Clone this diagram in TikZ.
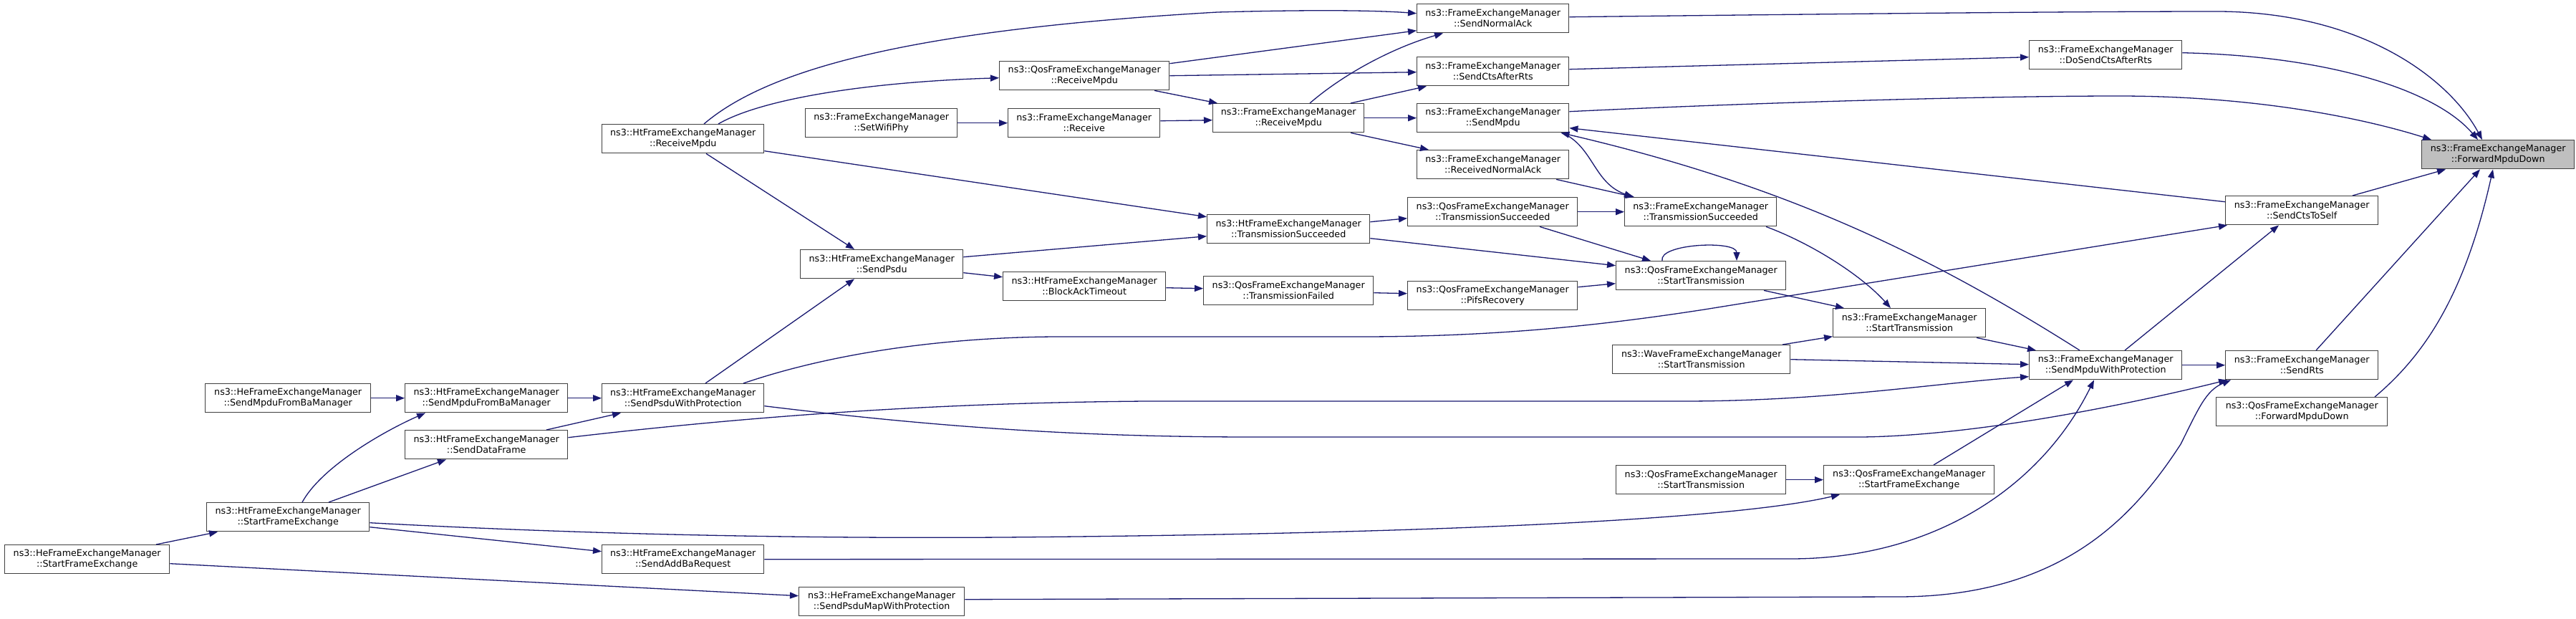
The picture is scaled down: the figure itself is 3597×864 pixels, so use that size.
\documentclass[tikz,border=0pt]{standalone}
\usepackage{fontspec}
\setmainfont{DejaVu Sans}
\usetikzlibrary{arrows.meta}
\definecolor{edgec}{HTML}{191970}
\definecolor{boxc}{HTML}{404040}
\definecolor{focusc}{HTML}{BFBFBF}
\begin{document}
\begin{tikzpicture}[x=1pt,y=-1pt,
 box/.style={draw=boxc, line width=1.4pt, rectangle, anchor=north west, inner sep=0pt, minimum height=40pt, align=center, font=\fontsize{12.7}{15}\selectfont, fill=white},
 focus/.style={box, fill=focusc},
 edge/.style={draw=edgec, line width=1.3pt, -{Triangle[length=12pt,width=9pt]}}]
\useasboundingbox (0,0) rectangle (3597,864);
\node[focus, minimum width=213pt] (fwd) at (3381,195) {ns3::FrameExchangeManager\\::ForwardMpduDown};
\node[box, minimum width=212pt] (sna) at (1978,5) {ns3::FrameExchangeManager\\::SendNormalAck};
\node[box, minimum width=213pt] (dsc) at (2833,56) {ns3::FrameExchangeManager\\::DoSendCtsAfterRts};
\node[box, minimum width=212pt] (scar) at (1978,79) {ns3::FrameExchangeManager\\::SendCtsAfterRts};
\node[box, minimum width=212pt] (smp) at (1978,144) {ns3::FrameExchangeManager\\::SendMpdu};
\node[box, minimum width=212pt] (rna) at (1978,209) {ns3::FrameExchangeManager\\::ReceivedNormalAck};
\node[box, minimum width=213pt] (cts) at (3107,273) {ns3::FrameExchangeManager\\::SendCtsToSelf};
\node[box, minimum width=213pt] (rts) at (3107,489) {ns3::FrameExchangeManager\\::SendRts};
\node[box, minimum width=239pt] (qfwd) at (3094,554) {ns3::QosFrameExchangeManager\\::ForwardMpduDown};
\node[box, minimum width=211pt] (frm) at (1693,144) {ns3::FrameExchangeManager\\::ReceiveMpdu};
\node[box, minimum width=237pt] (qrm) at (1395,85) {ns3::QosFrameExchangeManager\\::ReceiveMpdu};
\node[box, minimum width=212pt] (frcv) at (1407,151) {ns3::FrameExchangeManager\\::Receive};
\node[box, minimum width=212pt] (swp) at (1124,151) {ns3::FrameExchangeManager\\::SetWifiPhy};
\node[box, minimum width=226pt] (hrm) at (840,173) {ns3::HtFrameExchangeManager\\::ReceiveMpdu};
\node[box, minimum width=227pt] (hts) at (1685,299) {ns3::HtFrameExchangeManager\\::TransmissionSucceeded};
\node[box, minimum width=237pt] (qts) at (1965,275) {ns3::QosFrameExchangeManager\\::TransmissionSucceeded};
\node[box, minimum width=212pt] (fts) at (2268,275) {ns3::FrameExchangeManager\\::TransmissionSucceeded};
\node[box, minimum width=237pt] (qst) at (2256,364) {ns3::QosFrameExchangeManager\\::StartTransmission};
\node[box, minimum width=237pt] (pifs) at (1965,392) {ns3::QosFrameExchangeManager\\::PifsRecovery};
\node[box, minimum width=237pt] (qtf) at (1680,385) {ns3::QosFrameExchangeManager\\::TransmissionFailed};
\node[box, minimum width=227pt] (bat) at (1400,379) {ns3::HtFrameExchangeManager\\::BlockAckTimeout};
\node[box, minimum width=227pt] (psdu) at (1117,348) {ns3::HtFrameExchangeManager\\::SendPsdu};
\node[box, minimum width=213pt] (fst) at (2559,430) {ns3::FrameExchangeManager\\::StartTransmission};
\node[box, minimum width=248pt] (wst) at (2251,481) {ns3::WaveFrameExchangeManager\\::StartTransmission};
\node[box, minimum width=213pt] (smwp) at (2833,489) {ns3::FrameExchangeManager\\::SendMpduWithProtection};
\node[box, minimum width=237pt] (qst2) at (2256,649) {ns3::QosFrameExchangeManager\\::StartTransmission};
\node[box, minimum width=238pt] (qsfe) at (2546,649) {ns3::QosFrameExchangeManager\\::StartFrameExchange};
\node[box, minimum width=226pt] (hspp) at (840,535) {ns3::HtFrameExchangeManager\\::SendPsduWithProtection};
\node[box, minimum width=227pt] (hsmb) at (565,535) {ns3::HtFrameExchangeManager\\::SendMpduFromBaManager};
\node[box, minimum width=231pt] (hesmb) at (286,535) {ns3::HeFrameExchangeManager\\::SendMpduFromBaManager};
\node[box, minimum width=227pt] (hsdf) at (565,600) {ns3::HtFrameExchangeManager\\::SendDataFrame};
\node[box, minimum width=227pt] (hsfe) at (288,701) {ns3::HtFrameExchangeManager\\::StartFrameExchange};
\node[box, minimum width=230pt] (hesfe) at (6,760) {ns3::HeFrameExchangeManager\\::StartFrameExchange};
\node[box, minimum width=226pt] (hsab) at (840,760) {ns3::HtFrameExchangeManager\\::SendAddBaRequest};
\node[box, minimum width=231pt] (hespm) at (1115,819) {ns3::HeFrameExchangeManager\\::SendPsduMapWithProtection};
% edges
\draw[edge] ([yshift=2pt]sna.east) .. controls (2600,19) and (2900,16) .. (3100,16) .. controls (3300,18) and (3420,110) .. ([xshift=85pt]fwd.north west);
\draw[edge] ([yshift=3pt]dsc.east) .. controls (3250,78) and (3400,125) .. ([xshift=79pt]fwd.north west);
\draw[edge] ([yshift=9pt]smp.east) .. controls (2500,141) and (2800,134) .. (2958,134) .. controls (3150,134) and (3300,165) .. ([xshift=14pt]fwd.north west);
\draw[edge] ([xshift=178pt]cts.north west) -- ([xshift=34pt]fwd.south west);
\draw[edge] ([xshift=127pt]rts.north west) -- ([xshift=82pt]fwd.south west);
\draw[edge] ([xshift=222pt]qfwd.north west) .. controls (3380,500) and (3440,420) .. ([xshift=100pt]fwd.south west);
\draw[edge] ([yshift=3pt]scar.east) -- ([yshift=-3pt]dsc.west);
\draw[edge] ([xshift=143pt]hrm.north west) .. controls (1080,90) and (1300,40) .. (1700,17) .. controls (1850,13) and (1930,15) .. ([yshift=7pt]sna.west);
\draw[edge] ([yshift=17pt]qrm.east) -- ([yshift=-17pt]sna.west);
\draw[edge] ([xshift=136pt]frm.north west) .. controls (1880,100) and (1950,65) .. ([xshift=37pt]sna.south west);
\draw[edge] (qrm.east) -- ([yshift=-1pt]scar.west);
\draw[edge] ([xshift=193pt]frm.north west) -- ([xshift=14pt]scar.south west);
\draw[edge] (frm.east) -- (smp.west);
\draw[edge] ([xshift=193pt]frm.south west) -- ([xshift=17pt]rna.north west);
\draw[edge] ([xshift=217pt]qrm.south west) -- ([xshift=7pt]frm.north west);
\draw[edge] ([yshift=3pt]frcv.east) -- ([yshift=-3pt]frm.west);
\draw[edge] (swp.east) -- (frcv.west);
\draw[edge] ([xshift=163pt]hrm.north west) .. controls (1060,140) and (1200,115) .. ([yshift=-3pt]qrm.west);
\draw[edge] ([yshift=-17pt]hrm.east) -- ([yshift=17pt]hts.west);
\draw[edge] ([xshift=146pt]hrm.south west) -- ([xshift=76pt]psdu.north west);
\draw[edge] ([yshift=10pt]psdu.east) -- ([yshift=-10pt]hts.west);
\draw[edge] ([yshift=-12pt]psdu.east) -- ([yshift=13pt]bat.west);
\draw[edge] ([yshift=-2pt]bat.east) -- ([yshift=3pt]qtf.west);
\draw[edge] ([yshift=-3pt]qtf.east) -- ([yshift=3pt]pifs.west);
\draw[edge] ([yshift=12pt]pifs.east) -- ([yshift=-11pt]qst.west);
\draw[edge] ([yshift=10pt]hts.east) -- ([yshift=-9pt]qts.west);
\draw[edge] ([yshift=-13pt]hts.east) -- ([yshift=14pt]qst.west);
\draw[edge] (qts.east) -- (fts.west);
\draw[edge] ([xshift=185pt]qts.south west) -- ([xshift=49pt]qst.north west);
\draw[edge] ([xshift=195pt]rna.south west) -- ([xshift=14pt]fts.north west);
\draw[edge] ([xshift=-10pt]smp.south east) .. controls (2225,205) and (2225,255) .. ([xshift=12pt]fts.north west);
\draw[edge] ([xshift=65pt]qst.north west) .. controls (2315,340) and (2425,335) .. ([xshift=169pt]qst.north west);
\draw[edge] ([xshift=207pt]qst.south west) -- ([xshift=16pt]fst.north west);
\draw[edge] ([xshift=198pt]fts.south west) .. controls (2530,340) and (2600,385) .. ([xshift=81pt]fst.north west);
\draw[edge] ([xshift=238pt]wst.north west) -- ([yshift=-19pt]fst.west);
\draw[edge] ([xshift=201pt]fst.south west) -- ([xshift=10pt]smwp.north west);
\draw[edge] (wst.east) -- ([yshift=1pt]smwp.west);
\draw[edge] ([xshift=198pt]hspp.north west) .. controls (1200,480) and (1380,470) .. (1480,470) -- (1900,470) .. controls (2100,470) and (2250,452) .. (2380,432) -- ([xshift=3pt]cts.south west);
\draw[edge] ([yshift=-11pt]hspp.east) .. controls (1300,595) and (1500,610) .. (1750,610) -- (2600,610) .. controls (2750,608) and (2950,570) .. ([xshift=3pt]rts.south west);
\draw[edge] ([yshift=10pt]hsdf.east) .. controls (1100,575) and (1350,562) .. (1600,560) -- (2350,560) .. controls (2550,560) and (2700,535) .. ([yshift=-16pt]smwp.west);
\draw[edge] ([yshift=-8pt]hsfe.east) .. controls (800,745) and (1100,752) .. (1400,750) .. controls (1900,746) and (2400,730) .. ([xshift=23pt]qsfe.south west);
\draw[edge] ([yshift=-14pt]hsfe.east) -- ([yshift=11pt]hsab.west);
\draw[edge] ([xshift=171pt]hsfe.north west) -- ([xshift=58pt]hsdf.south west);
\draw[edge] ([xshift=134pt]hsfe.north west) .. controls (450,650) and (540,600) .. ([xshift=29pt]hsmb.south west);
\draw[edge] ([xshift=212pt]hesfe.north west) -- ([xshift=16pt]hsfe.south west);
\draw[edge] ([yshift=-6pt]hesfe.east) -- ([yshift=8pt]hespm.west);
\draw[edge] (hesmb.east) -- (hsmb.west);
\draw[edge] (hsmb.east) -- (hspp.west);
\draw[edge] ([xshift=198pt]hsdf.north west) -- ([xshift=27pt]hspp.south west);
\draw[edge] ([xshift=145pt]hspp.north west) -- ([xshift=76pt]psdu.south west);
\draw[edge] (hsab.east) -- (2500,780) .. controls (2700,780) and (2850,680) .. ([xshift=91pt]smwp.south west);
\draw[edge] ([yshift=3pt]hespm.east) -- (2650,833) .. controls (2880,833) and (2980,720) .. (3045,620) .. controls (3070,570) and (3080,545) .. ([xshift=8pt]rts.south west);
\draw[edge] (qst2.east) -- (qsfe.west);
\draw[edge] ([xshift=154pt]qsfe.north west) -- ([xshift=62pt]smwp.south west);
\draw[edge] (smwp.east) -- (rts.west);
\draw[edge] ([xshift=134pt]smwp.north west) -- ([xshift=75pt]cts.south west);
\draw[edge] ([xshift=71pt]smwp.north west) .. controls (2700,360) and (2500,260) .. ([xshift=-12pt]smp.south east);
\draw[edge] ([yshift=12pt]cts.west) -- ([yshift=-14pt]smp.east);
\end{tikzpicture}
\end{document}
